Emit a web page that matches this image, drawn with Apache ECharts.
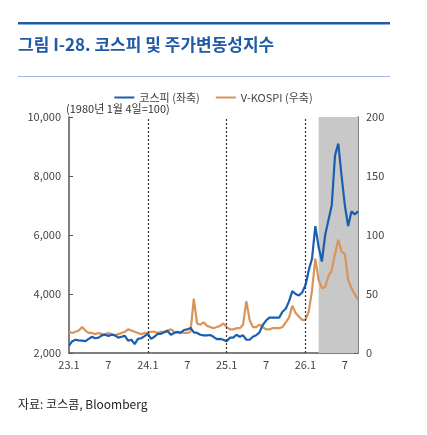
<!DOCTYPE html>
<html>
<head>
<meta charset="utf-8">
<script src="https://cdn.jsdelivr.net/npm/echarts@6/dist/echarts.min.js"></script>
<style>
  html, body { margin: 0; padding: 0; background: #fff; }
  #chart { width: 427px; height: 435px; }
</style>
</head>
<body>
<div id="chart"></div>
<script>
// 반월 간격 날짜 (2023.1 ~ 2026.9)
var dates = []
for (var y = 2023; y <= 2026; y++) {
    for (var m = 1; m <= 12; m++) {
        if (y === 2026 && m > 9) break
        dates.push(y + '-' + (m < 10 ? '0' + m : m) + '-01')
        if (!(y === 2026 && m === 9)) dates.push(y + '-' + (m < 10 ? '0' + m : m) + '-16')
    }
}

// 코스피 (좌축)
var kospi = [
    2250, 2400, 2450, 2430, 2420, 2400, 2480, 2550, 2500, 2520, 2600, 2620, 2580, 2620, 2600, 2520, 2550, 2580, 2420, 2450, 2300, 2480, 2500, 2570,
    2650, 2480, 2550, 2650, 2650, 2700, 2750, 2620, 2680, 2720, 2680, 2780, 2800, 2850, 2700, 2680, 2620, 2600, 2600, 2610, 2550, 2470, 2480, 2450,
    2400, 2520, 2520, 2620, 2550, 2600, 2450, 2450, 2550, 2600, 2700, 2950, 3100, 3200, 3200, 3200, 3200, 3400, 3500, 3750, 4100, 4000, 3950, 4050,
    4300, 4800, 5200, 6300, 5600, 5100, 6000, 6500, 7000, 8700, 9100, 8000, 7000, 6300, 6800, 6700, 6800
]

// V-KOSPI (우축)
var vkospi = [
    18, 17, 18, 19, 22, 19, 17, 17, 16, 17, 16, 16, 17, 16, 15, 16, 17, 18, 20, 19, 18, 17, 16, 17,
    17, 18, 18, 17, 18, 18, 19, 20, 18, 17, 18, 17, 17, 18, 46, 25, 24, 26, 23, 22, 21, 22, 23, 25,
    22, 20, 20, 21, 21, 24, 44, 28, 22, 22, 24, 22, 20, 20, 21, 21, 21, 22, 26, 30, 40, 34, 31, 28,
    28, 35, 53, 80, 62, 55, 56, 65, 70, 84, 96, 86, 84, 62, 55, 50, 45
]

var yearLines = ['2024-01-01', '2025-01-01', '2026-01-01']
var shadeFrom = '2026-03-01'

function tickLabel(d) {
    var mm = d.slice(5, 7), dd = d.slice(8)
    if (dd !== '01') return ''
    if (mm === '01') return d.slice(2, 4) + '.1'
    if (mm === '07') return '7'
    return ''
}

var chart = echarts.init(document.getElementById('chart'))
var font = '"Noto Sans CJK KR", sans-serif'
var option = {
    animation: false,
    textStyle: { fontFamily: font },
    graphic: [
        { type: 'rect', shape: { x: 18, y: 22, width: 372, height: 2.5 }, style: { fill: '#1f5aa6' } },
        { type: 'text', left: 18, top: 36, style: { text: '그림 I-28. 코스피 및 주가변동성지수', fill: '#1f5aa6', font: 'bold 17px ' + font } },
        { type: 'rect', shape: { x: 18, y: 76, width: 372, height: 1 }, style: { fill: '#9db8e6' } },
        { type: 'text', left: 66, top: 103, style: { text: '(1980년 1월 4일=100)', fill: '#333', font: '11px ' + font } },
        { type: 'text', left: 18, top: 398, style: { text: '자료: 코스콤, Bloomberg', fill: '#222', font: '12px ' + font } }
    ],
    legend: {
        top: 87, left: 'center', itemWidth: 20, itemHeight: 2, itemGap: 16,
        icon: 'rect',
        textStyle: { fontSize: 11, color: '#444' },
        data: ['코스피 (좌축)', 'V-KOSPI (우축)']
    },
    grid: { left: 69, right: 69, top: 117, bottom: 82 },
    xAxis: {
        type: 'category', data: dates, boundaryGap: false,
        axisLine: { lineStyle: { color: '#555', width: 1.5 } },
        axisTick: { show: false },
        axisLabel: {
            interval: function (i, v) { return tickLabel(v) !== '' },
            formatter: tickLabel, color: '#444', fontSize: 11, margin: 6
        }
    },
    yAxis: [
        {
            type: 'value', min: 2000, max: 10000, interval: 2000,
            axisLine: { show: true, lineStyle: { color: '#555', width: 1.5 } },
            axisTick: { show: true, inside: true, length: 4, lineStyle: { color: '#555' } },
            splitLine: { show: false },
            axisLabel: { color: '#444', fontSize: 11, formatter: function (v) { return v.toLocaleString('en-US') } }
        },
        {
            type: 'value', min: 0, max: 200, interval: 50,
            axisLine: { show: true, lineStyle: { color: '#555', width: 1.5 } },
            axisTick: { show: true, inside: true, length: 4, lineStyle: { color: '#555' } },
            splitLine: { show: false },
            axisLabel: { color: '#444', fontSize: 11 }
        }
    ],
    series: [
        {
            name: '코스피 (좌축)', type: 'line', data: kospi, yAxisIndex: 0,
            showSymbol: false, z: 3,
            lineStyle: { color: '#1a5fae', width: 2.2 }, itemStyle: { color: '#1a5fae' },
            markArea: {
                silent: true,
                itemStyle: { color: '#c8c8c8' },
                data: [[{ xAxis: shadeFrom }, { xAxis: dates[dates.length - 1] }]]
            },
            markLine: {
                silent: true, symbol: 'none', label: { show: false },
                lineStyle: { color: '#333', type: [2, 2], width: 1.2 },
                data: yearLines.map(function (d) { return { xAxis: d } })
            }
        },
        {
            name: 'V-KOSPI (우축)', type: 'line', data: vkospi, yAxisIndex: 1,
            showSymbol: false, z: 2,
            lineStyle: { color: '#d9945a', width: 2.2 }, itemStyle: { color: '#d9945a' }
        }
    ]
}
chart.setOption(option)
</script>
</body>
</html>
